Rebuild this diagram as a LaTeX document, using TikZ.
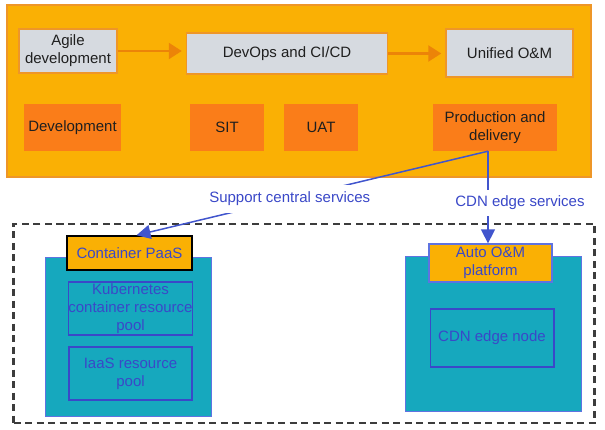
\documentclass[tikz,border=0pt]{standalone}
\usepackage{fontspec}
\setmainfont{Liberation Sans}
\usepackage{tikz}
\usetikzlibrary{positioning,calc,arrows.meta}

\definecolor{labfill}{RGB}{250,176,4}
\definecolor{labdraw}{RGB}{238,150,40}
\definecolor{stagegray}{RGB}{214,218,224}
\definecolor{stageorange}{RGB}{250,125,25}
\definecolor{poolteal}{RGB}{22,168,190}
\definecolor{poolrim}{RGB}{95,115,225}
\definecolor{linkblue}{RGB}{65,85,205}
\definecolor{textblue}{RGB}{58,72,200}
\definecolor{flowarrow}{RGB}{236,132,8}
\definecolor{zonegray}{RGB}{60,60,60}

\begin{document}
\begin{tikzpicture}[x=1pt, y=-1pt,
	font=\fontsize{15pt}{18pt}\selectfont,
	every node/.style={align=center, inner sep=0pt},
	phase/.style={draw=labdraw, line width=1.5pt, fill=stagegray, text=black!88},
	stage/.style={fill=stageorange, text=black!88, minimum height=47pt},
	pool/.style={draw=poolrim, line width=1pt, fill=poolteal},
	tier/.style={draw=textblue, line width=1.5pt, text=textblue},
	flow/.style={draw=flowarrow, line width=2.4pt, -{Triangle[length=13pt,width=16pt]}, shorten >=4pt},
	link/.style={draw=linkblue, line width=1.5pt, -{Triangle[length=14pt,width=14pt]}},
	linklabel/.style={fill=white, text=textblue, inner xsep=2pt, inner ysep=7pt}]
	\useasboundingbox (0,0) rectangle (605,430);
	\node[draw=labdraw, line width=1.2pt, fill=labfill, minimum width=584pt, minimum height=172pt] (lab) at (299,91) {};
	\node[phase, minimum width=98pt, minimum height=44pt] (agile) at (68,51) {Agile\\development};
	\node[phase, minimum width=201pt, minimum height=41pt] (devops) at (287,53.5) {DevOps and CI/CD};
	\node[phase, minimum width=127pt, minimum height=48pt] (unified) at (509.5,53) {Unified O\&M};
	\node[stage, minimum width=97pt] (dev) at (72.5,127.5) {Development};
	\node[stage, minimum width=74pt] (sit) at (227,127.5) {SIT};
	\node[stage, minimum width=74pt] (uat) at (321,127.5) {UAT};
	\node[stage, minimum width=124pt] (prod) at (495,127.5) {Production and\\delivery};
	\draw[flow] (agile.east) -- (agile.east -| devops.west);
	\draw[flow] (devops.east) -- (devops.east -| unified.west);
	\node[draw=zonegray, line width=2.2pt, dash pattern=on 7pt off 4.5pt, minimum width=581pt, minimum height=199pt] (zone) at (304,323.5) {};
	\node[pool, minimum width=166pt, minimum height=158pt] (central) at (128,337) {};
	\node[draw=black, line width=1.5pt, fill=labfill, text=textblue, minimum width=125pt, minimum height=34pt] (paas) at (129.5,253) {Container PaaS};
	\node[tier, minimum width=123pt, minimum height=53pt] (kube) at (130.5,308.5) {Kubernetes\\container resource\\pool};
	\node[tier, minimum width=123pt, minimum height=53pt] (iaas) at (130.5,373.5) {IaaS resource\\pool};
	\node[pool, minimum width=176pt, minimum height=154pt] (edge) at (493,334) {};
	\node[draw=poolrim, line width=1.3pt, fill=labfill, text=textblue, minimum width=123pt, minimum height=38pt] (auto) at (490.5,263) {Auto O\&M\\platform};
	\node[tier, minimum width=123.5pt, minimum height=58pt] (cdnnode) at (492,338) {CDN edge node};
	\coordinate (split) at ([xshift=-7pt]prod.south);
	\draw[link] (split) -- node[linklabel, pos=0.564] {Support central services} ([xshift=7pt]paas.north);
	\draw[link] (split) -- node[linklabel, pos=0.56, xshift=32pt, inner ysep=6pt] {CDN edge services} (split |- auto.north);
\end{tikzpicture}
\end{document}
